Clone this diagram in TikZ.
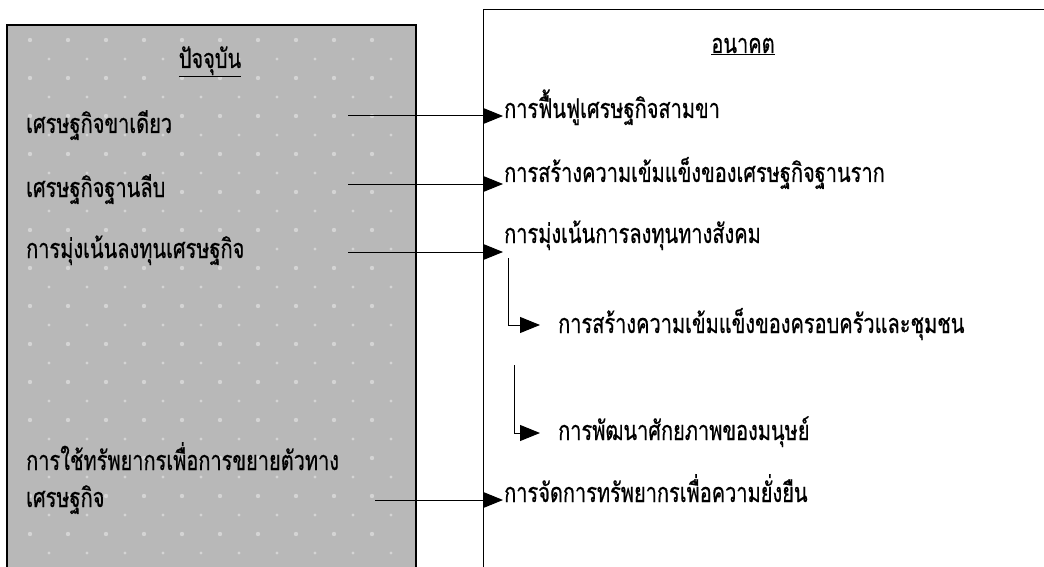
\documentclass[tikz,border=0pt]{standalone}
\usepackage{fontspec}
\newfontfamily\thaifont[Script=Thai,FakeStretch=0.74,FakeBold=0.6]{Loma}
\usetikzlibrary{arrows.meta}
\definecolor{nowgray}{RGB}{184,184,184}
\definecolor{dotgray}{RGB}{212,212,212}
\begin{document}
\begin{tikzpicture}[x=1pt,y=-1pt,
	txt/.style={anchor=base west,inner sep=0pt,font=\thaifont\fontsize{27}{30}\selectfont},
	head/.style={anchor=base,inner sep=0pt,font=\thaifont\fontsize{27}{30}\selectfont},
	>={Triangle[length=20pt,width=16pt]},
	arr/.style={->,line width=1pt}]
	\useasboundingbox (0,0) rectangle (1044,567);
	% left box
	\fill[nowgray] (7,25) rectangle (416,567);
	\foreach \x in {30,68,...,400} \foreach \y in {40,78,...,560}
	\fill[dotgray] (\x,\y) circle (2.2) (\x+19,\y+19) circle (1.6);
	\draw[line width=1.3pt] (7,567)--(7,25)--(416,25)--(416,567);
	% right box
	\draw[line width=0.8pt] (483,567)--(483,9)--(1044,9);
	\node[head] (now) at (210,68) {\underline{ปัจจุบัน}};
	\node[head] (future) at (743,53) {\underline{อนาคต}};
	\foreach \y/\n/\texn in {133/a/เศรษฐกิจขาเดียว,
		197/b/เศรษฐกิจฐานลีบ, 258/c/การมุ่งเน้นลงทุนเศรษฐกิจ,
		470/d/การใช้ทรัพยากรเพื่อการขยายตัวทาง, 507/e/เศรษฐกิจ}
	\path (26,\y) node[txt](l\n){\texn};
	\foreach \y/\n/\texn in {118/a/การฟื้นฟูเศรษฐกิจสามขา,
		182/b/การสร้างความเข้มแข็งของเศรษฐกิจฐานราก,
		243/c/การมุ่งเน้นการลงทุนทางสังคม,
		502/f/การจัดการทรัพยากรเพื่อความยั่งยืน}
	\path (504,\y) node[txt](r\n){\texn};
	\foreach \y/\n/\texn in {333/d/การสร้างความเข้มแข็งของครอบครัวและชุมชน,
		440/e/การพัฒนาศักยภาพของมนุษย์}
	\path (558,\y) node[txt](r\n){\texn};
	% arrow tails
	\foreach \x/\y/\n in {348/116/a, 348/184/b, 348/252/c, 375/500/f}
	\coordinate (s\n) at (\x,\y);
	\coordinate (sd) at (508,258);
	\coordinate (se) at (514,365);
	\foreach \n in {a,b,c,f}
	\draw[arr] (s\n)--([xshift=-1pt]r\n.west |- s\n);
	\draw[arr] (sd) |- ([shift={(-18,-8)}]rd.base west);
	\draw[arr] (se) |- ([shift={(-18,-7)}]re.base west);
\end{tikzpicture}
\end{document}
